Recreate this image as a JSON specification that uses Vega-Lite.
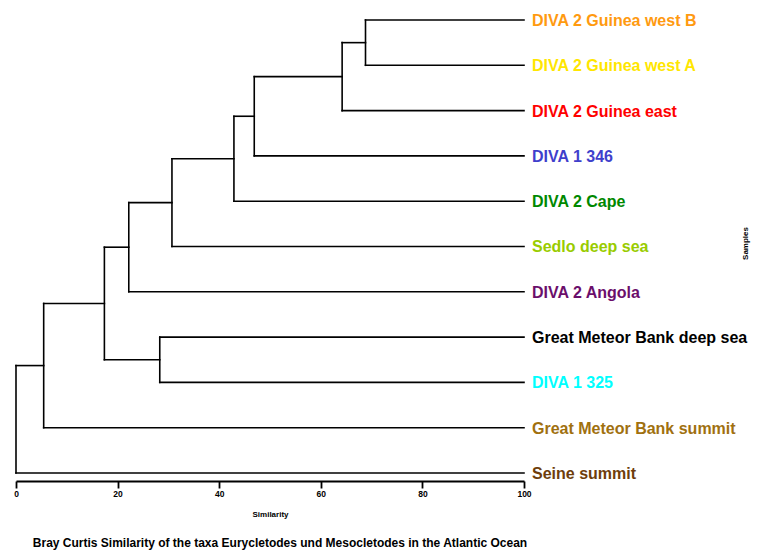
{
  "$schema": "https://vega.github.io/schema/vega-lite/v6.json",
  "width": 508,
  "height": 476,
  "autosize": {"type": "none"},
  "padding": {"left": 16, "top": 5, "right": 237, "bottom": 71},
  "background": "white",
  "config": {
    "font": "Liberation Sans",
    "view": {"stroke": null}
  },
  "title": {
    "text": "Bray Curtis Similarity of the taxa Eurycletodes und Mesocletodes in the Atlantic Ocean",
    "orient": "bottom",
    "anchor": "middle",
    "fontSize": 12,
    "fontWeight": "bold",
    "color": "#000000",
    "offset": 19,
    "dx": 10
  },
  "datasets": {
    "segments": [
      {"x": 68.8, "x2": 100, "y": 0, "y2": 0},
      {"x": 68.8, "x2": 100, "y": 1, "y2": 1},
      {"x": 64.2, "x2": 100, "y": 2, "y2": 2},
      {"x": 46.9, "x2": 100, "y": 3, "y2": 3},
      {"x": 42.9, "x2": 100, "y": 4, "y2": 4},
      {"x": 30.7, "x2": 100, "y": 5, "y2": 5},
      {"x": 22.2, "x2": 100, "y": 6, "y2": 6},
      {"x": 28.3, "x2": 100, "y": 7, "y2": 7},
      {"x": 28.3, "x2": 100, "y": 8, "y2": 8},
      {"x": 5.45, "x2": 100, "y": 9, "y2": 9},
      {"x": 0, "x2": 100, "y": 10, "y2": 10},
      {"x": 64.2, "x2": 68.8, "y": 0.5, "y2": 0.5},
      {"x": 46.9, "x2": 64.2, "y": 1.25, "y2": 1.25},
      {"x": 42.9, "x2": 46.9, "y": 2.125, "y2": 2.125},
      {"x": 30.7, "x2": 42.9, "y": 3.0625, "y2": 3.0625},
      {"x": 22.2, "x2": 30.7, "y": 4.03125, "y2": 4.03125},
      {"x": 17.4, "x2": 22.2, "y": 5.015625, "y2": 5.015625},
      {"x": 17.4, "x2": 28.3, "y": 7.5, "y2": 7.5},
      {"x": 5.45, "x2": 17.4, "y": 6.2578, "y2": 6.2578},
      {"x": 0, "x2": 5.45, "y": 7.6289, "y2": 7.6289},
      {"x": 68.8, "x2": 68.8, "y": 0, "y2": 1},
      {"x": 64.2, "x2": 64.2, "y": 0.5, "y2": 2},
      {"x": 46.9, "x2": 46.9, "y": 1.25, "y2": 3},
      {"x": 42.9, "x2": 42.9, "y": 2.125, "y2": 4},
      {"x": 30.7, "x2": 30.7, "y": 3.0625, "y2": 5},
      {"x": 22.2, "x2": 22.2, "y": 4.03125, "y2": 6},
      {"x": 28.3, "x2": 28.3, "y": 7, "y2": 8},
      {"x": 17.4, "x2": 17.4, "y": 5.015625, "y2": 7.5},
      {"x": 5.45, "x2": 5.45, "y": 6.2578, "y2": 9},
      {"x": 0, "x2": 0, "y": 7.6289, "y2": 10}
    ],
    "leaves": [
      {"name": "DIVA 2 Guinea west B", "sim": 100, "pos": 0},
      {"name": "DIVA 2 Guinea west A", "sim": 100, "pos": 1},
      {"name": "DIVA 2 Guinea east", "sim": 100, "pos": 2},
      {"name": "DIVA 1 346", "sim": 100, "pos": 3},
      {"name": "DIVA 2 Cape", "sim": 100, "pos": 4},
      {"name": "Sedlo deep sea", "sim": 100, "pos": 5},
      {"name": "DIVA 2 Angola", "sim": 100, "pos": 6},
      {"name": "Great Meteor Bank deep sea", "sim": 100, "pos": 7},
      {"name": "DIVA 1 325", "sim": 100, "pos": 8},
      {"name": "Great Meteor Bank summit", "sim": 100, "pos": 9},
      {"name": "Seine summit", "sim": 100, "pos": 10}
    ]
  },
  "layer": [
    {
      "data": {"name": "segments"},
      "mark": {"type": "rule", "color": "#000000", "strokeWidth": 1.6, "strokeCap": "square"},
      "encoding": {
        "x": {
          "field": "x", "type": "quantitative",
          "scale": {"domain": [0, 100], "nice": false, "zero": false},
          "axis": {
            "title": "Similarity",
            "values": [0, 20, 40, 60, 80, 100],
            "grid": false,
            "labelFlush": false,
            "domainColor": "#000000",
            "domainWidth": 2.2,
            "tickColor": "#000000",
            "tickWidth": 1.8,
            "tickSize": 7,
            "labelFontSize": 8.5,
            "labelFontWeight": "bold",
            "labelColor": "#000000",
            "labelPadding": 1,
            "titleFontSize": 8,
            "titleFontWeight": "bold",
            "titleColor": "#000000",
            "titlePadding": 13
          }
        },
        "x2": {"field": "x2"},
        "y": {
          "field": "y", "type": "quantitative",
          "scale": {"domain": [-0.331, 10.177], "reverse": true, "nice": false, "zero": false},
          "axis": {
            "orient": "right",
            "title": "Samples",
            "labels": false,
            "ticks": false,
            "domain": false,
            "grid": false,
            "titleAngle": 270,
            "titleFontSize": 8,
            "titleFontWeight": "bold",
            "titleColor": "#000000",
            "titlePadding": 225
          }
        },
        "y2": {"field": "y2"}
      }
    },
    {
      "data": {"name": "leaves"},
      "mark": {"type": "text", "align": "left", "baseline": "middle", "dx": 8, "dy": 1, "fontSize": 16, "fontWeight": "bold"},
      "encoding": {
        "x": {"field": "sim", "type": "quantitative"},
        "y": {"field": "pos", "type": "quantitative"},
        "text": {"field": "name"},
        "color": {
          "field": "name", "type": "nominal", "legend": null,
          "scale": {
            "domain": ["DIVA 2 Guinea west B", "DIVA 2 Guinea west A", "DIVA 2 Guinea east", "DIVA 1 346", "DIVA 2 Cape", "Sedlo deep sea", "DIVA 2 Angola", "Great Meteor Bank deep sea", "DIVA 1 325", "Great Meteor Bank summit", "Seine summit"],
            "range": ["#FF9A10", "#FFE600", "#FF0000", "#3F3FCC", "#008800", "#99CC00", "#6B0E6B", "#000000", "#00FFFF", "#A0700F", "#6E3D0B"]
          }
        }
      }
    }
  ]
}
